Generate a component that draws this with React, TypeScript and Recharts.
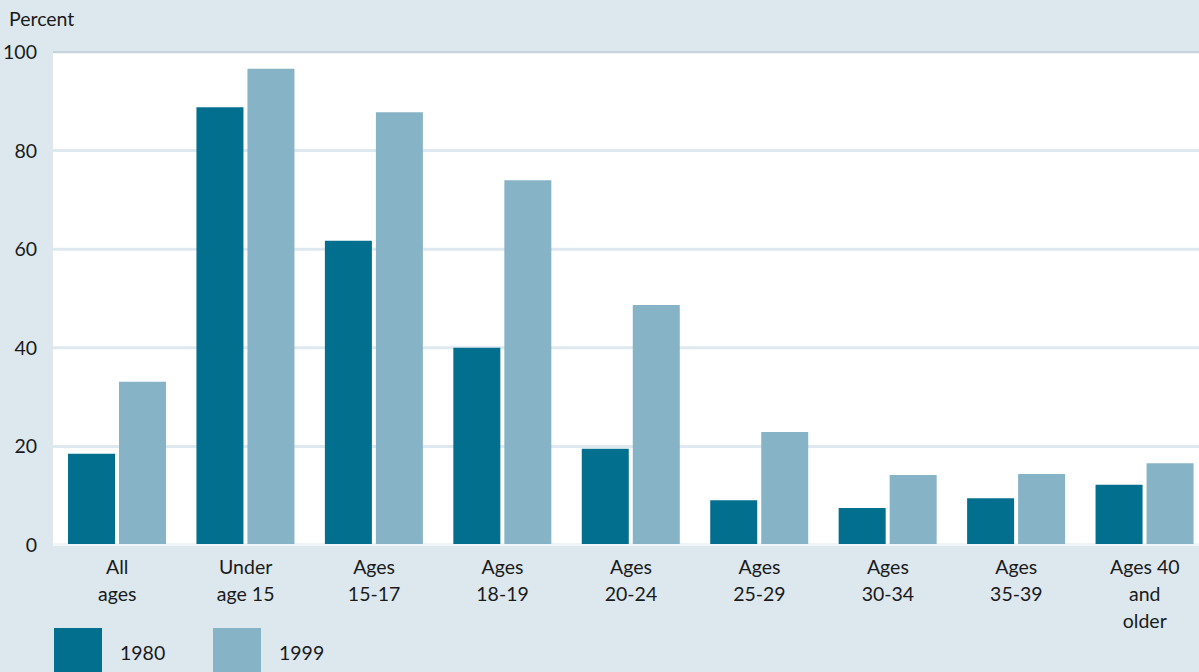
import { BarChart, Bar, XAxis, YAxis, CartesianGrid, ReferenceLine } from 'recharts'

const AGE_GROUPS = [
  'All\nages',
  'Under\nage 15',
  'Ages\n15-17',
  'Ages\n18-19',
  'Ages\n20-24',
  'Ages\n25-29',
  'Ages\n30-34',
  'Ages\n35-39',
  'Ages 40\nand\nolder',
]
const PCT_1980 = [18.5, 88.8, 61.7, 40.0, 19.5, 9.1, 7.5, 9.5, 12.2]
const PCT_1999 = [33.1, 96.6, 87.8, 74.0, 48.7, 22.9, 14.2, 14.4, 16.6]
const Y_TICKS = [0, 20, 40, 60, 80, 100]
const SERIES = [
  { key: 'y1980', label: '1980', color: '#036f8f' },
  { key: 'y1999', label: '1999', color: '#87b3c6' },
]

const BG = '#dce8ee'
const TEXT = '#1a1a1a'
const FONT = 'Lato, "Open Sans", sans-serif'

const data = AGE_GROUPS.map((group, i) => ({
  group,
  y1980: PCT_1980[i],
  y1999: PCT_1999[i],
}))

// multi-line category labels under the bars
function GroupTick({ x, y, payload }: any) {
  const lines = String(payload.value).split('\n')
  return (
    <text x={x} y={y} textAnchor="middle" fill={TEXT} fontSize={19.5} fontFamily={FONT}>
      {lines.map((line, i) => (
        <tspan key={i} x={x} dy={i === 0 ? 29 : 27}>
          {line}
        </tspan>
      ))}
    </text>
  )
}

export default function App() {
  return (
    <div style={{ position: 'relative', width: 1199, height: 672, background: BG, overflow: 'hidden' }}>
      <style>{`body { margin: 0; }`}</style>
      <div style={{ position: 'absolute', left: 9, top: 7, fontFamily: FONT, fontSize: 19.5, color: TEXT }}>
        Percent
      </div>
      <BarChart
        width={1199}
        height={672}
        data={data}
        margin={{ top: 52, right: -10, left: 0, bottom: 0 }}
        barCategoryGap={15}
        barGap={4}
      >
        <CartesianGrid vertical={false} fill="#ffffff" stroke="#dde9ef" strokeWidth={3} />
        <ReferenceLine y={100} stroke="#c6d3da" strokeWidth={2} />
        <ReferenceLine y={0} stroke="#f1f5f7" strokeWidth={2} />
        <XAxis
          dataKey="group"
          height={127}
          axisLine={false}
          tickLine={false}
          tickSize={0}
          tickMargin={0}
          interval={0}
          tick={<GroupTick />}
        />
        <YAxis
          width={53}
          domain={[0, 100]}
          ticks={Y_TICKS}
          axisLine={false}
          tickLine={false}
          tickMargin={10}
          tick={{ fill: TEXT, fontSize: 19.5, fontFamily: FONT }}
        />
        {SERIES.map((s) => (
          <Bar key={s.key} dataKey={s.key} name={s.label} fill={s.color} isAnimationActive={false} />
        ))}
      </BarChart>
      {/* legend swatches run off the bottom edge */}
      <div
        style={{
          position: 'absolute',
          left: 54,
          top: 628,
          display: 'flex',
          fontFamily: FONT,
          fontSize: 19.5,
          color: TEXT,
        }}
      >
        {SERIES.map((s) => (
          <div key={s.key} style={{ display: 'flex', alignItems: 'center', width: 159 }}>
            <div style={{ width: 48, height: 48, background: s.color }} />
            <span style={{ marginLeft: 18 }}>{s.label}</span>
          </div>
        ))}
      </div>
    </div>
  )
}
